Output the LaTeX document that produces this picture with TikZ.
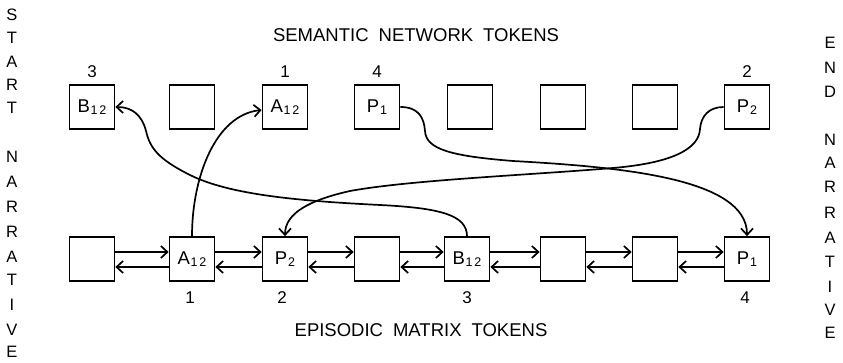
\documentclass[tikz,border=0pt]{standalone}
\usepackage{fontspec}
\setmainfont{Liberation Sans}
\usetikzlibrary{arrows.meta}
\newcommand{\tok}[2]{#1\kern0.8pt\raisebox{-2.5pt}{\fontsize{12.5}{12.5}\selectfont #2}}
\begin{document}
\begin{tikzpicture}[x=1pt,y=1pt, line width=1.7pt,
 box/.style={draw, minimum width=45pt, minimum height=44pt, inner sep=0pt, font=\fontsize{18.5}{18.5}\selectfont},
 lbl/.style={font=\fontsize{17}{17}\selectfont, inner sep=0pt},
 vlet/.style={font=\fontsize{16.5}{16.5}\selectfont, inner sep=0pt},
 ttl/.style={font=\fontsize{18.5}{18.5}\selectfont, inner sep=0pt},
 arr/.style={-{Straight Barb[length=6.5pt,width=12pt]}},
]
\useasboundingbox (0,0) rectangle (843,363);

% titles
\node[ttl] (ttop) at (416,328) {SEMANTIC\hspace{10pt}NETWORK\hspace{10pt}TOKENS};
\node[ttl] (tbot) at (421,33) {EPISODIC\hspace{10pt}MATRIX\hspace{10pt}TOKENS};

% left column
\foreach \l/\y [count=\i] in {S/348,T/325,A/301,R/278,T/255,N/206,A/181,R/156,R/131,A/106,T/83,I/58,V/33,E/11}
  \node[vlet] (L\i) at (12,\y) {\l};
% right column
\foreach \l/\y [count=\i] in {E/320,N/295,D/271,N/223,A/200,R/176,R/150,A/125,T/101,I/76,V/53,E/30}
  \node[vlet] (R\i) at (830,\y) {\l};

% top row
\node[box] (tB) at (92,256) {\tok{B}{1\kern1.8pt2}};
\node[box] (t2) at (192,256) {};
\node[box] (tA) at (285,256) {\tok{A}{1\kern1.8pt2}};
\node[box] (tP1) at (377,256) {\tok{P}{1}};
\node[box] (t5) at (470,256) {};
\node[box] (t6) at (563,256) {};
\node[box] (t7) at (655,256) {};
\node[box] (tP2) at (747,256) {\tok{P}{2}};

\node[lbl] (n3t) at (92,291) {3};
\node[lbl] (n1t) at (285,291) {1};
\node[lbl] (n4t) at (377,291) {4};
\node[lbl] (n2t) at (747,291) {2};

% bottom row
\node[box] (b1) at (92,104) {};
\node[box] (bA) at (192,104) {\tok{A}{1\kern1.8pt2}};
\node[box] (bP2) at (285,104) {\tok{P}{2}};
\node[box] (b4) at (377,104) {};
\node[box] (bB) at (467,104) {\tok{B}{1\kern1.8pt2}};
\node[box] (b6) at (563,104) {};
\node[box] (b7) at (655,104) {};
\node[box] (bP1) at (747,104) {\tok{P}{1}};

\node[lbl] (n1b) at (190,65) {1};
\node[lbl] (n2b) at (282,65) {2};
\node[lbl] (n3b) at (467,65) {3};
\node[lbl] (n4b) at (745,65) {4};

% chain arrows
\foreach \a/\b in {b1/bA, bA/bP2, bP2/b4, b4/bB, bB/b6, b6/b7, b7/bP1} {
  \draw[arr] ([yshift=7pt]\a.east) -- ([yshift=7pt]\b.west);
  \draw[arr] ([yshift=-8pt]\b.west) -- ([yshift=-8pt]\a.east);
}

% connectors
\draw[arr] (bA.north) .. controls (192,185) and (215,248) .. ([yshift=-3pt]tA.west);
\draw[arr] (bB.north) .. controls (467,148) and (440,155) .. (380,158)
  .. controls (300,162) and (230,168) .. (190,188)
  .. controls (158,204) and (150,215) .. (146,232)
  .. controls (142,248) and (132,256) .. (tB.east);
\draw[arr] (tP1.east) .. controls (418,256) and (424,246) .. (425,232)
  .. controls (426,214) and (450,207) .. (513,202)
  .. controls (620,196) and (747,185) .. (bP1.north);
\draw[arr] (tP2.west) .. controls (709,256) and (701,247) .. (700,234)
  .. controls (699,214) and (672,200) .. (613,195)
  .. controls (530,188) and (410,183) .. (350,172)
  .. controls (310,163) and (285,150) .. (bP2.north);
\end{tikzpicture}
\end{document}
